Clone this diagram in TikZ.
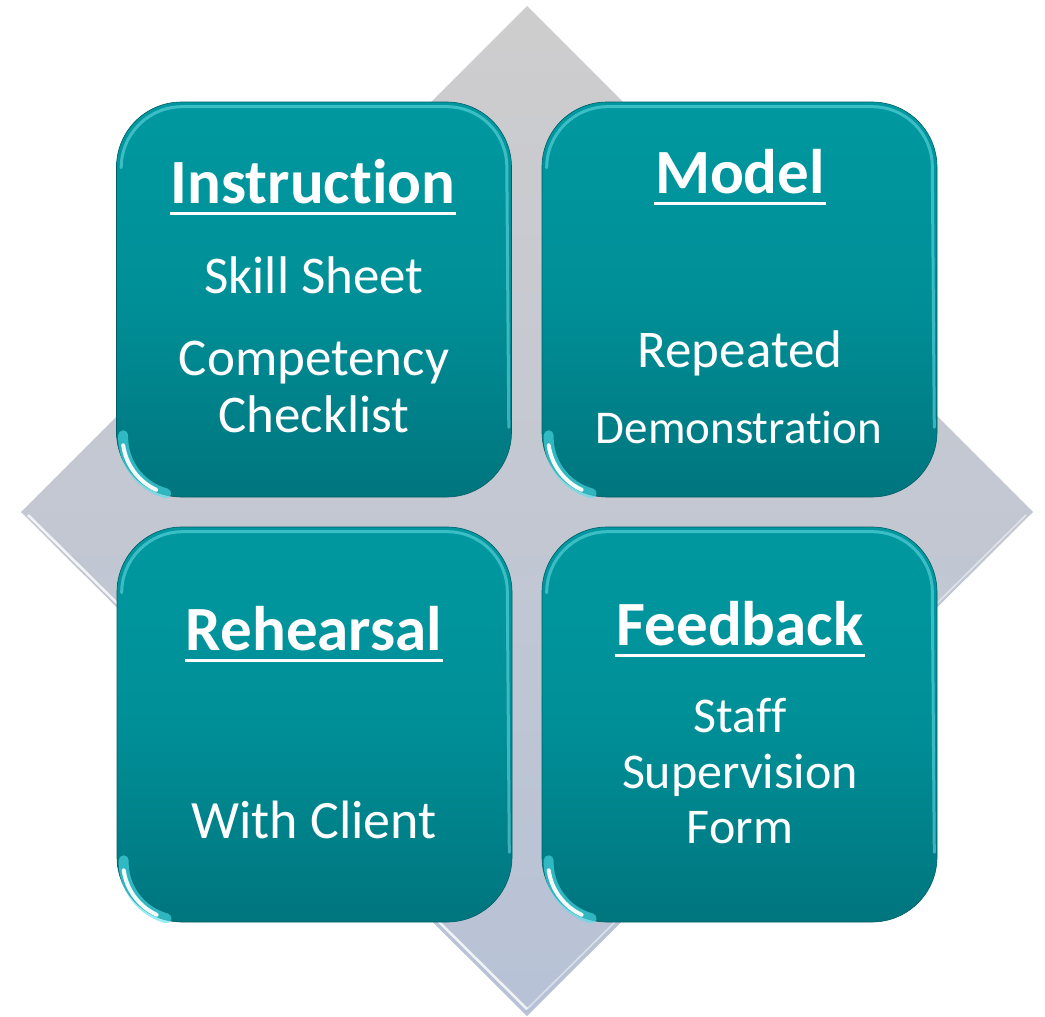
\documentclass[tikz,border=0pt]{standalone}
\usepackage{fontspec}
\setmainfont{Carlito}[Ligatures=NoCommon]
\usetikzlibrary{calc}

\definecolor{tealtop}{RGB}{0,152,160}
\definecolor{tealmid}{RGB}{0,143,151}
\definecolor{tealbot}{RGB}{0,117,126}
\definecolor{tealrim}{RGB}{110,222,230}
\definecolor{tealglow}{RGB}{80,225,235}
\definecolor{diamtop}{RGB}{206,205,206}
\definecolor{diambot}{RGB}{183,194,214}

\tikzset{
  tile/.style={rounded corners=65pt, minimum width=395pt, minimum height=395pt, inner sep=0pt,
    top color=tealtop, bottom color=tealbot, middle color=tealmid, draw=tealbot!80!black, line width=0.6pt},
  rim/.style={tealrim, line width=3pt, opacity=0.55, line cap=round},
  glow/.style={tealglow, line width=10pt, opacity=0.6, line cap=round},
  glint/.style={white, line width=4pt, opacity=0.95, line cap=round},
  ttl/.style={anchor=base, inner sep=0pt, text=white, font=\fontsize{63}{70}\selectfont\bfseries},
  txt/.style={anchor=base, inner sep=0pt, text=white, font=\fontsize{#1}{56}\selectfont},
  txt/.default=53,
  uline/.style={white, line width=3pt},
}

\begin{document}
\begin{tikzpicture}[x=1pt,y=-1pt]
  \useasboundingbox (0,0) rectangle (1045,1017);
  % grey diamond behind the tiles
  \shade[top color=diamtop, bottom color=diambot] (527,6) -- (1033,512) -- (527,1016) -- (21,512) -- cycle;
  % bevel on the two lower edges
  \draw[white, line width=2.5pt, opacity=0.8] (28,515) -- (527,1009);
  \draw[white, line width=1.5pt, opacity=0.5] (527,1009) -- (1026,515);
  % the four tiles
  \node[tile] (instr) at (314,299.5) {};
  \node[tile] (model) at (739.5,299.5) {};
  \node[tile] (rehea) at (314.5,724.5) {};
  \node[tile] (feedb) at (739.5,724.5) {};
  \foreach \t in {instr,model,rehea,feedb} {
    % light rim along the top and right side
    \draw[rim] ($(\t.north west)+(5,66)$) arc[start angle=180, end angle=270, radius=61]
      -- ($(\t.north east)+(-65,5)$) arc[start angle=270, end angle=360, radius=60]
      -- ($(\t.south east)+(-3,-70)$);
    % shine on the lower left corner
    \draw[glow] ($(\t.south west)+(7,-62)$) arc[start angle=182, end angle=105, radius=58];
    \draw[glint] ($(\t.south west)+(7,-52)$) arc[start angle=172, end angle=115, radius=58];
  }
  % headings, underlined
  \foreach \n/\x/\y/\s in {instrT/313/203/Instruction, modelT/740/193/Model,
                          reheaT/314/650/Rehearsal, feedbT/740/645/Feedback} {
    \node[ttl] (\n) at (\x,\y) {\s};
    \draw[uline] ($(\n.base west)+(-1,10)$) -- ($(\n.base east)+(1,10)$);
  }
  % body text
  \node[txt] (skill) at (314,293) {Skill Sheet};
  \node[txt] (compet) at (314,375) {Competency};
  \node[txt] (check) at (314,432) {Checklist};
  \node[txt] (repeat) at (740,367) {Repeated};
  \node[txt=47] (demo) at (739,443) {Demonstration};
  \node[txt=54] (client) at (314,838) {With Client};
  \node[txt=50] (staff) at (740,732) {Staff};
  \node[txt=50] (superv) at (740,788) {Supervision};
  \node[txt=50] (form) at (740,843) {Form};
\end{tikzpicture}
\end{document}
